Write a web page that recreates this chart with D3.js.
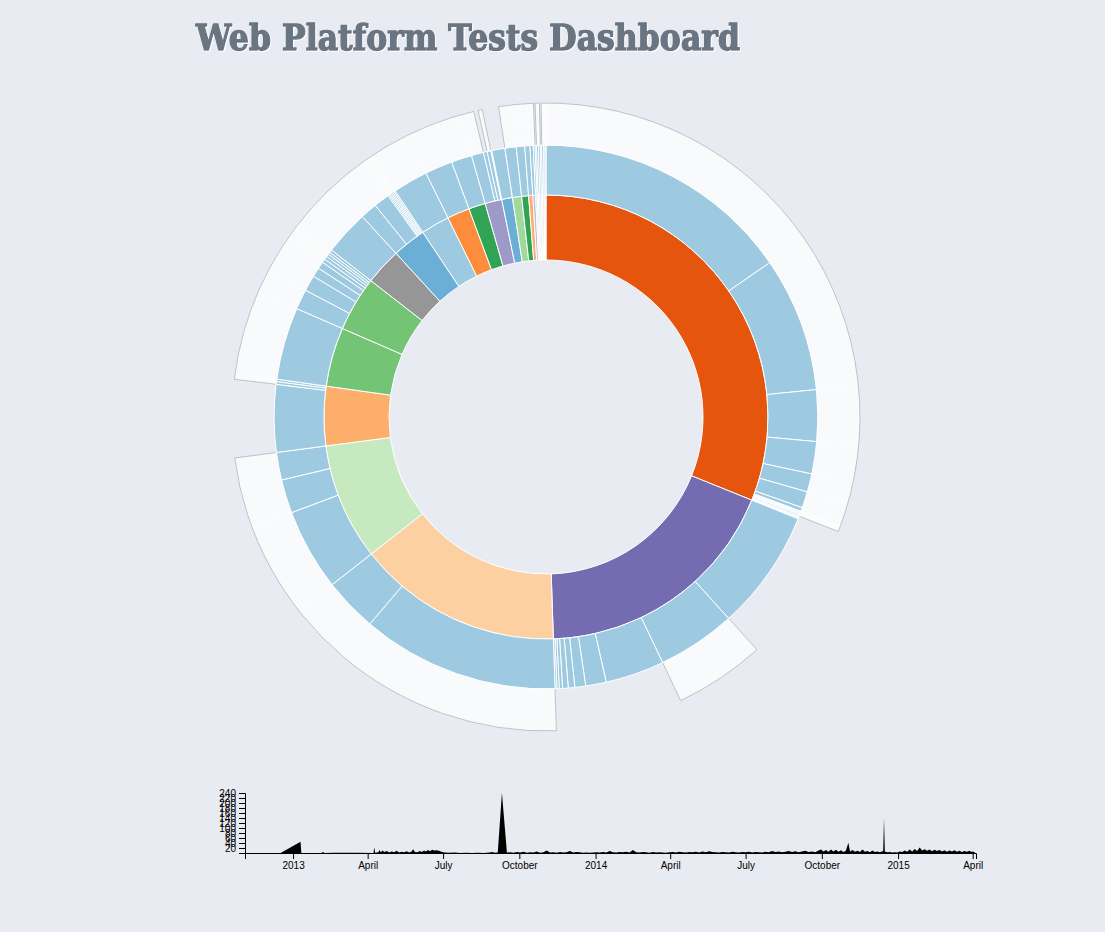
<!DOCTYPE html>
<html>
<head>
<meta charset="utf-8">
<script src="https://cdn.jsdelivr.net/npm/d3@7"></script>
<style>
  html, body { margin: 0; padding: 0; background: #e8ebf2; }
  svg { display: block; }
</style>
</head>
<body>
<svg id="chart" width="1105" height="932"></svg>
<script>
// ---------------- DATA ----------------
const title = "Web Platform Tests Dashboard";

// top-level test directories (inner ring)
const sections = ["html","dom","2dcontext","webstorage","IndexedDB","XMLHttpRequest","workers",
  "websockets","eventsource","FileAPI","webmessaging","progress-events","cors","media-source",
  "selectors-api","shadow-dom","touch-events","pointerevents","webvtt","custom-elements",
  "vibration","navigation-timing","battery-status","hr-time","page-visibility","user-timing"];

// second-level directories: [section index, number of tests, tests live in deeper files (1) or directly (0)]
const subdirs = [
  [0,554,1],[0,288,1],[0,110,1],[0,69,1],[0,39,1],[0,35,1],[0,8,1],[0,2,1],[0,2,1],[0,2,1],[0,2,1],[0,3,1],[0,2,0],[0,2,0],[0,2,0],
  [1,258,0],[1,168,1],[1,126,0],[1,44,0],[1,23,0],[1,14,0],[1,12,0],[1,7,0],[1,5,0],[1,4,0],
  [2,423,1],[2,115,1],
  [3,175,1],[3,72,1],[3,59,1],
  [4,144,0],[4,6,1],[4,5,1],
  [5,155,1],
  [6,43,1],[6,34,1],[6,20,1],[6,15,1],[6,8,1],[6,7,1],[6,6,1],[6,5,1],[6,6,1],
  [7,96,1],
  [8,36,1],[8,34,1],[8,3,1],[8,3,1],[8,3,1],[8,3,1],[8,3,1],[8,3,1],
  [9,75,1],
  [10,59,1],
  [11,44,1],
  [12,26,1],[12,8,0],[12,8,1],[12,2,0],
  [13,28,0],
  [14,24,1],[15,18,1],[16,11,1],[17,7,1],
  [18,4,1],[19,3,0],[20,4,1],[21,4,1],[22,3,0],[23,4,1],[24,3,1],[25,2,1]
];

// daily count of test changes (timeline)
const timeline = [
  ["2012-11-04",0],["2012-12-17",0],["2013-01-10",45],["2013-01-11",0],["2013-02-04",0],["2013-02-06",4],
  ["2013-02-08",0],["2013-02-20",1],["2013-03-05",1],["2013-03-20",1],["2013-04-08",0],["2013-04-09",23],
  ["2013-04-10",1],["2013-04-14",3],["2013-04-15",12],["2013-04-17",3],["2013-04-19",10],["2013-04-21",4],
  ["2013-04-24",8],["2013-04-27",2],["2013-04-30",6],["2013-05-03",3],["2013-05-06",9],["2013-05-09",2],
  ["2013-05-12",5],["2013-05-15",3],["2013-05-18",7],["2013-05-21",2],["2013-05-24",6],["2013-05-26",15],
  ["2013-05-28",4],["2013-05-31",3],["2013-06-03",8],["2013-06-05",4],["2013-06-08",10],["2013-06-10",6],
  ["2013-06-13",12],["2013-06-15",7],["2013-06-18",13],["2013-06-20",10],["2013-06-23",11],["2013-06-26",9],
  ["2013-06-29",5],["2013-07-03",2],["2013-07-08",1],["2013-07-15",2],["2013-07-22",0],["2013-07-29",1],
  ["2013-08-05",0],["2013-08-12",1],["2013-08-19",0],["2013-08-26",2],["2013-08-30",4],["2013-09-01",1],
  ["2013-09-05",2],["2013-09-10",241],["2013-09-16",2],["2013-09-20",3],["2013-09-24",1],["2013-09-28",4],
  ["2013-10-02",2],["2013-10-06",5],["2013-10-10",1],["2013-10-14",3],["2013-10-18",2],["2013-10-22",6],
  ["2013-10-26",1],["2013-10-30",3],["2013-11-03",10],["2013-11-07",2],["2013-11-11",3],["2013-11-15",1],
  ["2013-11-19",4],["2013-11-23",2],["2013-11-27",3],["2013-12-01",8],["2013-12-05",2],["2013-12-09",4],
  ["2013-12-13",3],["2013-12-17",1],["2013-12-21",2],["2013-12-25",1],["2013-12-29",2],["2014-01-02",3],
  ["2014-01-06",2],["2014-01-10",4],["2014-01-14",2],["2014-01-18",8],["2014-01-22",3],["2014-01-26",2],
  ["2014-01-30",4],["2014-02-03",3],["2014-02-07",5],["2014-02-11",2],["2014-02-15",12],["2014-02-19",3],
  ["2014-02-23",2],["2014-02-27",4],["2014-03-03",3],["2014-03-07",1],["2014-03-11",4],["2014-03-15",2],
  ["2014-03-19",3],["2014-03-23",2],["2014-03-27",1],["2014-03-31",3],["2014-04-04",4],["2014-04-08",2],
  ["2014-04-12",5],["2014-04-16",3],["2014-04-20",2],["2014-04-24",4],["2014-04-28",3],["2014-05-02",5],
  ["2014-05-06",2],["2014-05-10",6],["2014-05-14",3],["2014-05-18",7],["2014-05-22",4],["2014-05-26",3],
  ["2014-05-30",2],["2014-06-03",4],["2014-06-07",3],["2014-06-11",2],["2014-06-15",5],["2014-06-19",3],
  ["2014-06-23",2],["2014-06-27",4],["2014-07-01",3],["2014-07-05",5],["2014-07-09",2],["2014-07-13",4],
  ["2014-07-17",3],["2014-07-21",2],["2014-07-25",5],["2014-07-29",3],["2014-08-02",8],["2014-08-06",4],
  ["2014-08-10",6],["2014-08-14",3],["2014-08-18",5],["2014-08-22",8],["2014-08-26",4],["2014-08-30",7],
  ["2014-09-03",3],["2014-09-07",6],["2014-09-11",9],["2014-09-15",4],["2014-09-19",6],["2014-09-23",3],
  ["2014-09-27",10],["2014-09-30",14],["2014-10-03",6],["2014-10-06",12],["2014-10-09",5],["2014-10-12",14],
  ["2014-10-15",6],["2014-10-18",13],["2014-10-21",5],["2014-10-24",11],["2014-10-27",4],["2014-10-30",9],
  ["2014-11-02",41],["2014-11-04",6],["2014-11-07",12],["2014-11-10",5],["2014-11-13",9],["2014-11-16",4],
  ["2014-11-19",14],["2014-11-22",5],["2014-11-25",8],["2014-11-28",3],["2014-12-01",10],["2014-12-04",4],
  ["2014-12-07",6],["2014-12-10",3],["2014-12-14",8],["2014-12-15",139],["2014-12-16",6],["2014-12-19",3],
  ["2014-12-22",4],["2014-12-25",2],["2014-12-28",3],["2014-12-31",2],["2015-01-03",6],["2015-01-06",4],
  ["2015-01-09",10],["2015-01-12",5],["2015-01-15",14],["2015-01-18",6],["2015-01-21",16],["2015-01-24",8],
  ["2015-01-27",22],["2015-01-30",10],["2015-02-02",15],["2015-02-05",9],["2015-02-08",14],["2015-02-11",7],
  ["2015-02-14",13],["2015-02-17",8],["2015-02-20",12],["2015-02-23",6],["2015-02-26",11],["2015-03-01",5],
  ["2015-03-04",10],["2015-03-07",6],["2015-03-10",11],["2015-03-13",5],["2015-03-16",9],["2015-03-19",4],
  ["2015-03-22",8],["2015-03-25",5],["2015-03-28",9],["2015-03-31",4],["2015-04-02",6],["2015-04-04",0]
];
const timeDomain = ["2012-11-04","2015-04-05"];
const countTicks = [0,20,40,60,80,100,120,140,160,180,200,220,240];

// ---------------- STYLE ----------------
const sectionColors = ["#e6550d","#756bb1","#fdd0a2","#c7e9c0","#fdae6b","#74c476","#74c476","#969696",
  "#6baed6","#9ecae1","#fd8d3c","#31a354","#9e9ac8","#6baed6","#a1d99b","#31a354","#fdae6b","#bcbddc",
  "#dadaeb","#d9d9d9","#c6dbef","#dadaeb","#bdbdbd","#d9d9d9","#dadaeb","#c6dbef"];
const subdirColor = "#9ecae1";
const fileColor = "#f9fafb";

// ---------------- BUILD ----------------
const svg = d3.select("#chart");
const defs = svg.append("defs");
const f = defs.append("filter").attr("id","shadow").attr("x","-5%").attr("y","-20%").attr("width","110%").attr("height","140%");
f.append("feDropShadow").attr("dx",1).attr("dy",1).attr("stdDeviation",0.2).attr("flood-color","#ffffff").attr("flood-opacity",1);

svg.append("text")
  .attr("x", 196).attr("y", 50)
  .attr("textLength", 544).attr("lengthAdjust", "spacingAndGlyphs")
  .attr("font-family", "'DejaVu Serif', serif")
  .attr("font-weight", "bold")
  .attr("font-size", 35)
  .attr("fill", "#6b7482")
  .attr("stroke", "#6b7482")
  .attr("stroke-width", 1.4)
  .attr("stroke-linejoin", "round")
  .attr("filter", "url(#shadow)")
  .text(title);

// hierarchy
const tree = { name: "root", children: sections.map((s, i) => ({ name: s, idx: i, children: [] })) };
subdirs.forEach(([sec, n, nested], j) => {
  const node = { name: sections[sec] + "/d" + j };
  if (nested) node.children = [{ name: node.name + "/files", value: n }];
  else node.value = n;
  tree.children[sec].children.push(node);
});

const R = 314, cx = 546, cy = 417;
const root = d3.hierarchy(tree).sum(d => d.children ? 0 : d.value);
d3.partition().size([2 * Math.PI, R * R])(root);

const arc = d3.arc()
  .startAngle(d => d.x0).endAngle(d => d.x1)
  .innerRadius(d => Math.sqrt(d.y0)).outerRadius(d => Math.sqrt(d.y1));

const g = svg.append("g").attr("transform", `translate(${cx},${cy})`);
const nodes = root.descendants().filter(d => d.depth > 0);

g.selectAll("path.node")
  .data(nodes)
  .join("path")
  .attr("class", "node")
  .attr("d", arc)
  .attr("fill", d => d.depth === 1 ? sectionColors[d.data.idx] : d.depth === 2 ? subdirColor : fileColor)
  .attr("stroke", "#fff")
  .attr("stroke-width", d => d.depth === 3 ? 0.6 : 1);

// outline of outer (file) ring runs
const leaves3 = nodes.filter(d => d.depth === 3).sort((a, b) => a.x0 - b.x0);
let runs = [];
leaves3.forEach(d => {
  const last = runs[runs.length - 1];
  if (last && Math.abs(d.x0 - last.a1) < 1e-9) last.a1 = d.x1;
  else runs.push({ a0: d.x0, a1: d.x1, y0: d.y0, y1: d.y1 });
});
if (runs.length > 1 && runs[0].a0 < 1e-9 && Math.abs(runs[runs.length - 1].a1 - 2 * Math.PI) < 1e-9) {
  const last = runs.pop();
  runs[0].a0 = last.a0 - 2 * Math.PI;
}
g.selectAll("path.rim")
  .data(runs)
  .join("path")
  .attr("class", "rim")
  .attr("d", r => {
    const r0 = Math.sqrt(r.y0) + 0.5, r1 = Math.sqrt(r.y1);
    const p = d3.path();
    p.moveTo(r0 * Math.sin(r.a0), -r0 * Math.cos(r.a0));
    p.lineTo(r1 * Math.sin(r.a0), -r1 * Math.cos(r.a0));
    p.arc(0, 0, r1, r.a0 - Math.PI / 2, r.a1 - Math.PI / 2);
    p.lineTo(r0 * Math.sin(r.a1), -r0 * Math.cos(r.a1));
    return p.toString();
  })
  .attr("fill", "none")
  .attr("stroke", "#a3a7ae")
  .attr("stroke-width", 0.7);

// ---------------- TIMELINE ----------------
const parse = d3.timeParse("%Y-%m-%d");
const series = timeline.map(([d, v]) => ({ date: parse(d), value: v }));
const x = d3.scaleTime().domain(timeDomain.map(parse)).range([245, 976]);
const y = d3.scaleLinear().domain([0, 240]).range([853, 793]);

svg.append("path")
  .datum(series)
  .attr("d", d3.area().x(d => x(d.date)).y0(y(0)).y1(d => y(d.value)))
  .attr("fill", "#000");

const xAxis = svg.append("g").attr("transform", `translate(0,${y(0)})`)
  .call(d3.axisBottom(x).ticks(10));
const yAxis = svg.append("g").attr("transform", `translate(245,0)`)
  .call(d3.axisLeft(y).tickValues(countTicks).tickFormat(v => v === 0 ? "" : v));
[xAxis, yAxis].forEach(a => a.attr("font-family", "'Liberation Sans', Arial, sans-serif").attr("font-size", 10));
</script>
</body>
</html>
